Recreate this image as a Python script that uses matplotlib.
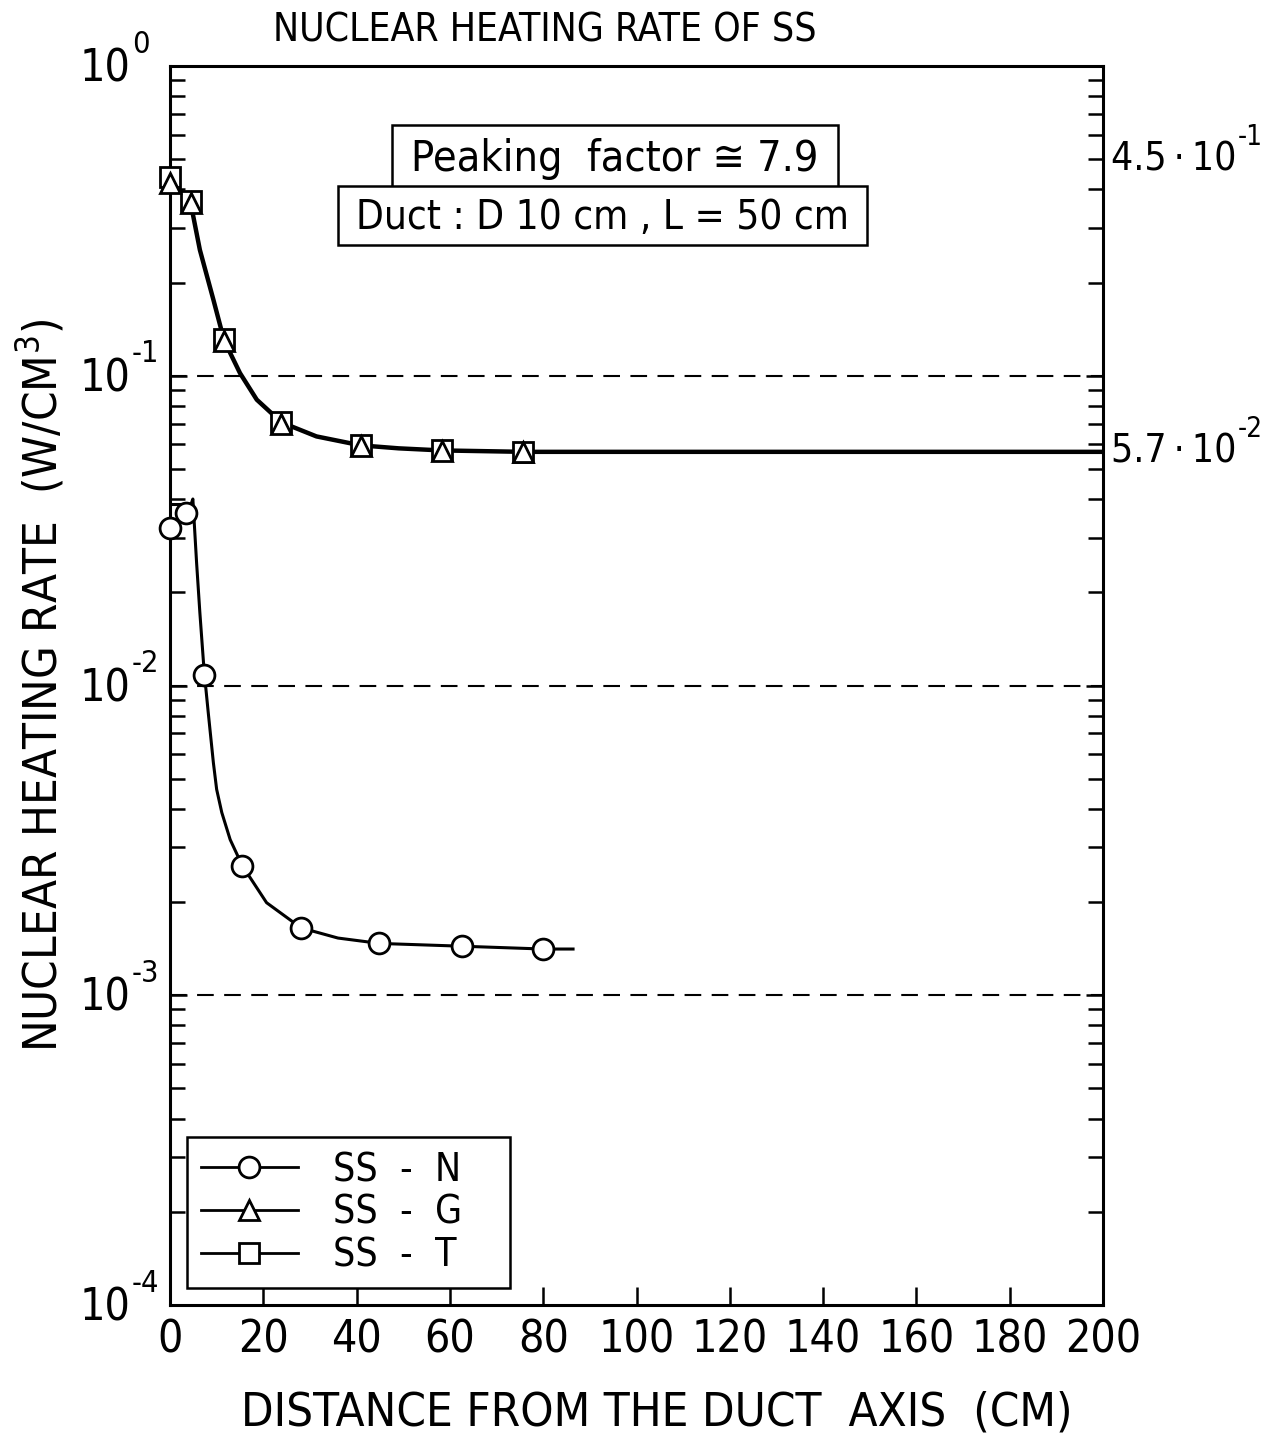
import matplotlib
matplotlib.use('Agg')
import matplotlib.pyplot as plt
from matplotlib.lines import Line2D
from matplotlib.patches import Rectangle
from matplotlib.ticker import FixedLocator, LogLocator, NullFormatter, FixedFormatter
import matplotlib.transforms as mtransforms

plt.rcParams['font.family'] = ['DejaVu Sans']
plt.rcParams['font.stretch'] = 'condensed'
plt.rcParams['mathtext.fontset'] = 'custom'
plt.rcParams['mathtext.rm'] = 'DejaVu Sans:stretch=condensed'
plt.rcParams['mathtext.it'] = 'DejaVu Sans:stretch=condensed'
plt.rcParams['mathtext.bf'] = 'DejaVu Sans:stretch=condensed'
plt.rcParams['mathtext.sf'] = 'DejaVu Sans:stretch=condensed'

# ---------------- data ----------------
title = 'NUCLEAR HEATING RATE OF SS'
xlabel = 'DISTANCE FROM THE DUCT  AXIS  (CM)'
ylabel = 'NUCLEAR HEATING RATE  (W/CM$^3$)'

x_ticks = [0, 20, 40, 60, 80, 100, 120, 140, 160, 180, 200]
x_tick_labels = ['0', '20', '40', '60', '80', '100', '120', '140', '160', '180', '200']
y_ticks = [1e-4, 1e-3, 1e-2, 1e-1, 1e0]
y_tick_base = ['10', '10', '10', '10', '10']
y_tick_exp = ['-4', '-3', '-2', '-1', '0']
grid_levels = [1e-3, 1e-2, 1e-1]

# SS-N markers
ssn_x = [0, 3.4, 7.3, 15.5, 28.1, 44.9, 62.5, 80.0]
ssn_y = [0.0323, 0.0361, 0.0108, 0.00262, 0.00165, 0.00147, 0.00144, 0.00141]
# SS-G markers
ssg_x = [0, 4.4, 11.6, 23.9, 40.9, 58.2, 75.7]
ssg_y = [0.419, 0.360, 0.129, 0.0700, 0.0592, 0.0570, 0.0566]
# SS-T markers
sst_x = [0, 4.4, 11.6, 23.9, 40.9, 58.2, 75.7]
sst_y = [0.439, 0.367, 0.131, 0.0707, 0.0596, 0.0574, 0.0568]

# drawn curves
gt_curve_x = [0, 4.4, 6.4, 9.3, 11.6, 15.0, 18.6, 23.9, 31.4, 40.9, 49.0, 58.2, 75.7, 200]
gt_curve_y = [0.43, 0.363, 0.255, 0.176, 0.130, 0.102, 0.0837, 0.0707, 0.0637, 0.0596,
              0.0583, 0.0574, 0.0568, 0.0568]
ssn_curve_x = [0, 4.5, 4.9, 5.7, 6.4, 7.3, 8.2, 9.3, 10.0, 11.1, 12.9, 15.5, 20.7, 28.1,
               36.0, 44.9, 62.5, 80.0, 86.4]
ssn_curve_y = [0.0384, 0.0384, 0.040, 0.0249, 0.0172, 0.0112, 0.00817, 0.00563, 0.00462,
               0.00389, 0.00318, 0.00262, 0.00199, 0.00165, 0.00153, 0.00147, 0.00144,
               0.00141, 0.00141]

right_label_values = [0.45, 0.057]
right_label_text = ['4.5\u2009\u00b7\u200910', '5.7\u2009\u00b7\u200910']
right_label_exp = ['-1', '-2']
box_texts = ['Peaking  factor \u2245 7.9', 'Duct : D 10 cm , L = 50 cm']
legend_labels = ['SS  -  N', 'SS  -  G', 'SS  -  T']

# ---------------- figure ----------------
fig = plt.figure(figsize=(12.68, 14.36), dpi=100)
L, R, T, B = 170, 1103, 66, 1305
W, H = 1268, 1436
ax = fig.add_axes([L / W, 1 - B / H, (R - L) / W, (B - T) / H])

ax.set_yscale('log')
ax.set_xlim(0, 200)
ax.set_ylim(1e-4, 1e0)

for lev in grid_levels:
    ax.axhline(lev, color='black', lw=1.5, ls=(0, (8, 5)), zorder=1)

ax.plot(gt_curve_x, gt_curve_y, color='black', lw=3.2, zorder=2, solid_joinstyle='round')
ax.plot(ssn_curve_x, ssn_curve_y, color='black', lw=2.2, zorder=2, solid_joinstyle='round')

mk = dict(ls='none', mfc='white', mec='black', mew=2, clip_on=False)
ax.plot(sst_x, sst_y, marker='s', ms=15, zorder=4, **mk)
ax.plot(ssg_x, ssg_y, marker='^', ms=14, zorder=5, **mk)
ax.plot(ssn_x, ssn_y, marker='o', ms=15, zorder=6, **mk)

# axes styling
for s in ax.spines.values():
    s.set_linewidth(2.2)

ax.xaxis.set_major_locator(FixedLocator(x_ticks))
ax.xaxis.set_major_formatter(FixedFormatter(x_tick_labels))
ax.yaxis.set_major_locator(FixedLocator(y_ticks))
ax.yaxis.set_major_formatter(NullFormatter())
ax.yaxis.set_minor_locator(LogLocator(base=10, subs=[2, 3, 4, 5, 6, 7, 8, 9]))
ax.yaxis.set_minor_formatter(NullFormatter())

ax.tick_params(axis='x', which='major', direction='in', length=13, width=1.8,
               top=False, bottom=True, labelsize=32, pad=10)
ax.tick_params(axis='y', which='major', direction='in', length=12, width=1.8,
               left=True, right=True)
ax.tick_params(axis='y', which='minor', direction='in', length=11, width=1.8,
               left=True, right=True)

# y tick labels: "10" with raised exponent
ytr = ax.get_yaxis_transform()
down = mtransforms.ScaledTranslation(0, -3 / 100, fig.dpi_scale_trans)
for val, base, ex in zip(y_ticks, y_tick_base, y_tick_exp):
    t = ax.text(-0.097, val, base, transform=ytr + down, fontsize=32,
                ha='left', va='center', clip_on=False)
    ax.annotate(ex, xy=(1.0, 0.5), xycoords=t, xytext=(1, 18), textcoords='offset points',
                fontsize=22, ha='left', va='center', annotation_clip=False)

ax.set_xlabel(xlabel, fontsize=34)
ax.xaxis.set_label_coords(0.522, -0.087)
ax.xaxis.label.set_va('center')
ax.set_ylabel(ylabel, fontsize=34)
ax.yaxis.set_label_coords(-0.139, 0.50)
ax.yaxis.label.set_va('center')

fig.text(545 / W, 1 - 30 / H, title, fontsize=28, ha='center', va='center')

# right side labels
offsets = [14, 0]
for val, txt, ex, off in zip(right_label_values, right_label_text, right_label_exp, offsets):
    tr = ytr + mtransforms.ScaledTranslation(0, off / 100, fig.dpi_scale_trans)
    t = ax.text(1.009, val, txt, transform=tr, fontsize=28, ha='left', va='center',
                clip_on=False)
    ax.annotate(ex, xy=(1.0, 0.5), xycoords=t, xytext=(0.5, 16), textcoords='offset points',
                fontsize=20, ha='left', va='center', annotation_clip=False)

# annotation boxes (axes fraction)
boxes = [(0.238, 0.9015, 0.716, 0.952), (0.180, 0.8555, 0.747, 0.903)]
box_sizes = [31, 29]
for (x0, y0, x1, y1), txt, fs in zip(boxes, box_texts, box_sizes):
    ax.add_patch(Rectangle((x0, y0), x1 - x0, y1 - y0, transform=ax.transAxes,
                           facecolor='white', edgecolor='black', lw=1.8, zorder=7))
    ax.text((x0 + x1) / 2, (y0 + y1) / 2 - 0.002, txt, transform=ax.transAxes, fontsize=fs,
            ha='center', va='center', zorder=8)

# legend
handles = [
    Line2D([], [], color='black', lw=2, marker='o', ms=15, mfc='white', mec='black', mew=2),
    Line2D([], [], color='black', lw=2, marker='^', ms=14, mfc='white', mec='black', mew=2),
    Line2D([], [], color='black', lw=2, marker='s', ms=14, mfc='white', mec='black', mew=2),
]
leg = ax.legend(handles, legend_labels, loc='lower left',
                bbox_to_anchor=(0.0182, 0.0137, 0.346, 0.125), mode='expand',
                borderaxespad=0, fontsize=28, frameon=True, fancybox=False,
                edgecolor='black', framealpha=1, handlelength=2.5, handletextpad=0.9,
                labelspacing=0.12, borderpad=0.35)
leg.get_frame().set_linewidth(1.8)
leg.set_zorder(9)

fig.savefig('out.png', dpi=100)
